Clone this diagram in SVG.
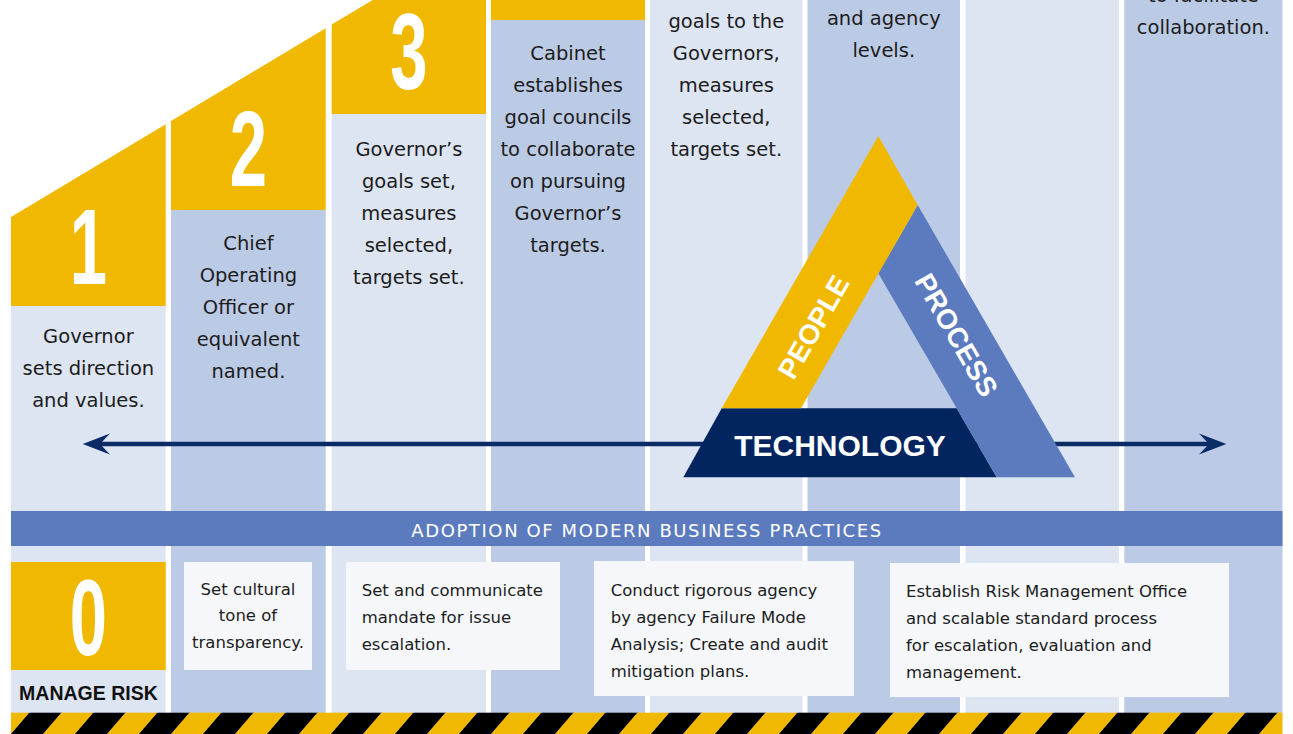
<svg xmlns="http://www.w3.org/2000/svg" width="1293" height="734" viewBox="0 0 1293 734">
<style>
.lt{fill:#dde4f2}.dk{fill:#bccbe5}.yl{fill:#f0b900}
.ct{font-family:"DejaVu Sans",sans-serif;font-size:19.5px;fill:#1c1c1c;text-anchor:middle}
.bt{font-family:"DejaVu Sans",sans-serif;font-size:16.5px;fill:#1c1c1c}
.num{font-family:"Liberation Sans",Arial,sans-serif;font-weight:bold;font-size:108px;fill:#fff;text-anchor:middle}
.box{fill:#f5f7fb}
.tri{font-family:"Liberation Sans",Arial,sans-serif;font-weight:bold;fill:#fff;text-anchor:middle}
</style>
<defs>
<pattern id="hazard" patternUnits="userSpaceOnUse" width="64" height="40" patternTransform="translate(29.3,712.7) skewX(-40.7)">
<rect width="64" height="40" fill="#f0b900"/><rect width="32" height="40" fill="#000"/>
</pattern>
</defs>
<rect width="1293" height="734" fill="#fff"/>

<g id="col1">
<rect class="lt" x="11" y="306" width="154.7" height="407"/>
<polygon class="yl" points="11,217 165.7,124.2 165.7,306 11,306"/>
<text class="num" transform="translate(88.4,284) scale(0.62,1)">1</text>
<text class="ct" x="88.4" y="343">Governor</text>
<text class="ct" x="88.4" y="375">sets direction</text>
<text class="ct" x="88.4" y="407">and values.</text>
</g>
<g id="col2">
<rect class="dk" x="171" y="210" width="154.7" height="503"/>
<polygon class="yl" points="171,121 325.7,28.2 325.7,210 171,210"/>
<text class="num" transform="translate(248.4,186) scale(0.62,1)">2</text>
<text class="ct" x="248.4" y="250">Chief</text>
<text class="ct" x="248.4" y="282">Operating</text>
<text class="ct" x="248.4" y="314">Officer or</text>
<text class="ct" x="248.4" y="346">equivalent</text>
<text class="ct" x="248.4" y="378">named.</text>
</g>
<g id="col3">
<rect class="lt" x="331.7" y="114" width="154.3" height="599"/>
<polygon class="yl" points="331.7,24.6 372.7,0 486,0 486,114 331.7,114"/>
<text class="num" transform="translate(408.9,89) scale(0.62,1)">3</text>
<text class="ct" x="408.9" y="156">Governor’s</text>
<text class="ct" x="408.9" y="188">goals set,</text>
<text class="ct" x="408.9" y="220">measures</text>
<text class="ct" x="408.9" y="252">selected,</text>
<text class="ct" x="408.9" y="284">targets set.</text>
</g>
<g id="col4">
<rect class="dk" x="491" y="20" width="154" height="693"/>
<rect class="yl" x="491" y="0" width="154" height="20"/>
<text class="ct" x="568" y="60">Cabinet</text>
<text class="ct" x="568" y="92">establishes</text>
<text class="ct" x="568" y="124">goal councils</text>
<text class="ct" x="568" y="156">to collaborate</text>
<text class="ct" x="568" y="188">on pursuing</text>
<text class="ct" x="568" y="220">Governor’s</text>
<text class="ct" x="568" y="252">targets.</text>
</g>
<g id="col5">
<rect class="lt" x="650" y="0" width="152.5" height="713"/>
<text class="ct" x="726.3" y="28">goals to the</text>
<text class="ct" x="726.3" y="60">Governors,</text>
<text class="ct" x="726.3" y="92">measures</text>
<text class="ct" x="726.3" y="124">selected,</text>
<text class="ct" x="726.3" y="156">targets set.</text>
</g>
<g id="col6">
<rect class="dk" x="807.5" y="0" width="152.5" height="713"/>
<text class="ct" x="883.8" y="25">and agency</text>
<text class="ct" x="883.8" y="57">levels.</text>
</g>
<g id="col7">
<rect class="lt" x="965.5" y="0" width="153.5" height="713"/>
</g>
<g id="col8">
<rect class="dk" x="1124.3" y="0" width="158.2" height="713"/>
<text class="ct" x="1203.4" y="2">to facilitate</text>
<text class="ct" x="1203.4" y="34">collaboration.</text>
</g>

<g id="connectors">
<line x1="100" y1="444" x2="1209" y2="444" stroke="#0b2b66" stroke-width="4.5"/>
<polygon points="82.7,444 110,433.5 100,444 110,454.5" fill="#0b2b66"/>
<polygon points="1226.3,444 1199,433.5 1209,444 1199,454.5" fill="#0b2b66"/>
</g>

<g id="triangle">
<polygon points="721.7,408.3 956.7,408.3 996.7,477.3 683.3,477.3" fill="#02245f"/>
<polygon points="917.7,205 1075,477.3 996.7,477.3 878.3,273.3" fill="#5b7bbe"/>
<polygon points="878.3,136 917.7,205 801,408.3 721.7,408.3" fill="#f0b900"/>
<text class="tri" font-size="30" x="840" y="456">TECHNOLOGY</text>
<text class="tri" font-size="28" transform="translate(813.3,326.7) rotate(-60)" y="10">PEOPLE</text>
<text class="tri" font-size="28" transform="translate(956.7,335) rotate(60)" y="10">PROCESS</text>
</g>

<g id="band">
<rect x="11" y="511" width="1271.5" height="35" fill="#5b7bbe"/>
<text x="647" y="537" font-family="DejaVu Sans,sans-serif" font-size="18" letter-spacing="1.6" fill="#fff" text-anchor="middle">ADOPTION OF MODERN BUSINESS PRACTICES</text>
</g>

<g id="risk0">
<rect class="yl" x="11" y="562" width="154.7" height="108"/>
<text class="num" transform="translate(88.4,655) scale(0.62,1)">0</text>
<text x="88.4" y="700" font-family="Liberation Sans,Arial,sans-serif" font-weight="bold" font-size="19.5" fill="#111" text-anchor="middle">MANAGE RISK</text>
</g>
<g id="boxA">
<rect class="box" x="184" y="562" width="128" height="108"/>
<text class="bt" x="248" y="594.5" text-anchor="middle">Set cultural</text>
<text class="bt" x="248" y="621" text-anchor="middle">tone of</text>
<text class="bt" x="248" y="648" text-anchor="middle">transparency.</text>
</g>
<g id="boxB">
<rect class="box" x="346" y="562" width="214" height="108"/>
<text class="bt" x="361.7" y="596">Set and communicate</text>
<text class="bt" x="361.7" y="623">mandate for issue</text>
<text class="bt" x="361.7" y="650">escalation.</text>
</g>
<g id="boxC">
<rect class="box" x="594" y="561" width="260" height="135"/>
<text class="bt" x="610.7" y="596">Conduct rigorous agency</text>
<text class="bt" x="610.7" y="623">by agency Failure Mode</text>
<text class="bt" x="610.7" y="650">Analysis; Create and audit</text>
<text class="bt" x="610.7" y="677">mitigation plans.</text>
</g>
<g id="boxD">
<rect class="box" x="890" y="563" width="339" height="134"/>
<text class="bt" x="906" y="597">Establish Risk Management Office</text>
<text class="bt" x="906" y="624">and scalable standard process</text>
<text class="bt" x="906" y="651">for escalation, evaluation and</text>
<text class="bt" x="906" y="678">management.</text>
</g>

<rect id="hazard-stripe" x="11" y="712.7" width="1271.5" height="21.3" fill="url(#hazard)"/>
</svg>
